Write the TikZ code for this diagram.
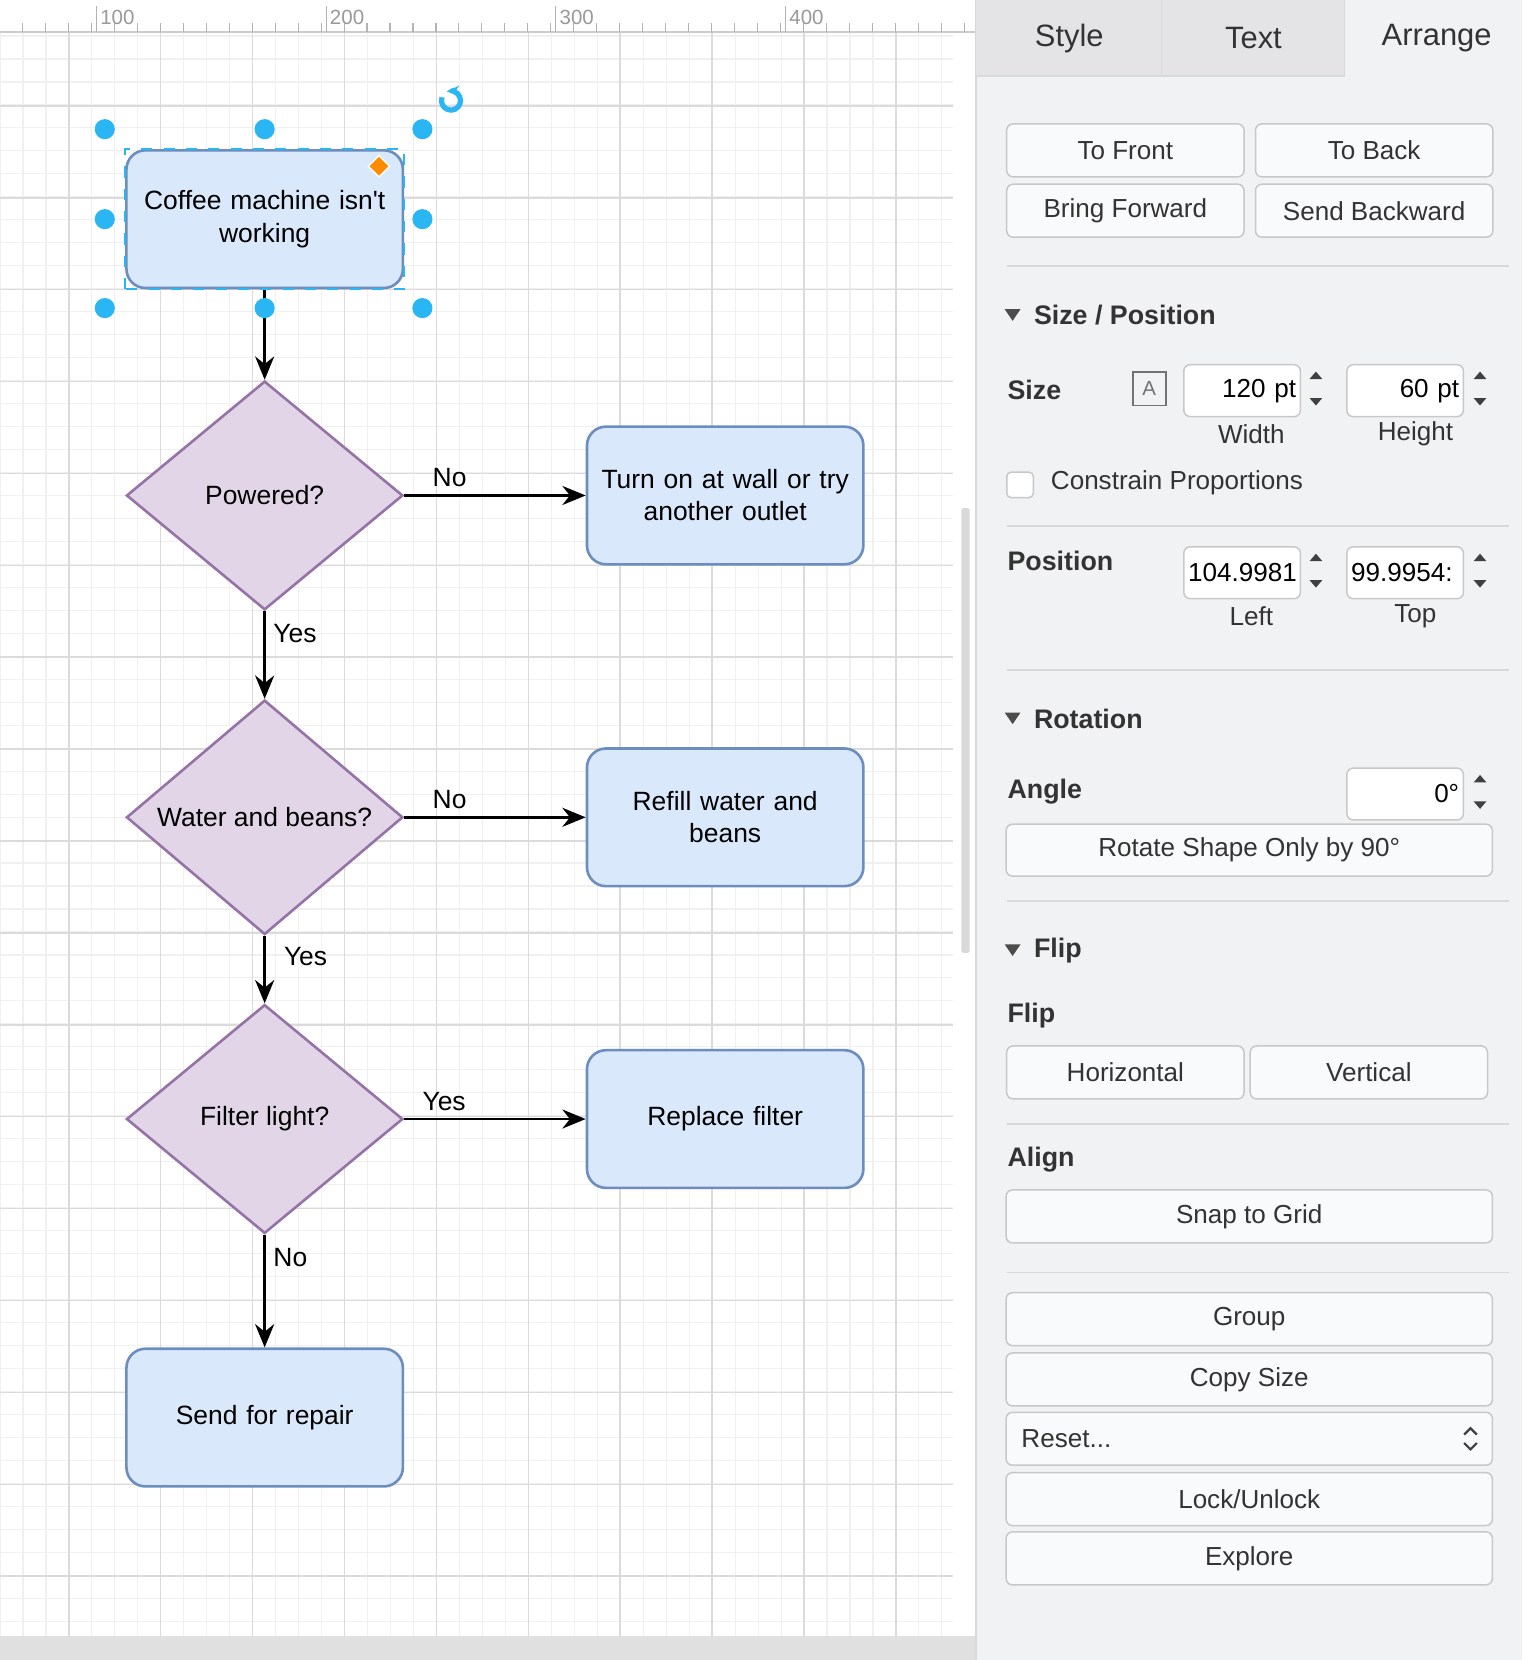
\documentclass[tikz,border=0pt]{standalone}
\usepackage{fontspec}
\setmainfont{Liberation Sans}
\usetikzlibrary{shapes.geometric,arrows.meta,positioning}
\definecolor{boxfill}{HTML}{DAE8FC}
\definecolor{boxline}{HTML}{6C8EBF}
\definecolor{decfill}{HTML}{E1D5E7}
\definecolor{decline}{HTML}{9673A6}
\definecolor{selblue}{HTML}{29B6F2}
\definecolor{panelbg}{HTML}{F1F2F4}
\definecolor{tabbg}{HTML}{E4E4E6}
\definecolor{btnline}{HTML}{C8C8C8}
\tikzset{
  box/.style={draw=boxline, fill=boxfill, rounded corners=0.18cm, line width=0.7pt, inner xsep=0.03cm,
    minimum width=2.61cm, minimum height=1.30cm, align=center, text width=2.55cm, font=\fontsize{7.1}{8.6}\selectfont},
  decision/.style={diamond, draw=decline, fill=decfill, line width=0.7pt, inner sep=0pt,
    minimum width=2.61cm, minimum height=2.16cm, font=\fontsize{7.1}{8.6}\selectfont},
  flow/.style={-{Stealth[length=0.22cm,width=0.18cm]}, line width=0.7pt},
  lbl/.style={font=\fontsize{7.1}{8.6}\selectfont, inner sep=2pt},
  handle/.style={circle, fill=selblue, minimum size=0.19cm, inner sep=0pt},
  btn/.style={draw=btnline, fill=white!60!panelbg, rounded corners=0.06cm, line width=0.4pt, font=\fontsize{7}{8}\selectfont\color{black!80}},
  field/.style={draw=btnline, fill=white, rounded corners=0.06cm, line width=0.4pt, minimum width=1.1cm, minimum height=0.49cm,
    inner xsep=0.04cm, text width=1.02cm, align=right, font=\fontsize{7}{8}\selectfont, anchor=east},
  head/.style={font=\bfseries\fontsize{7.2}{8}\selectfont\color{black!80}, anchor=west, inner sep=0pt},
  ptext/.style={font=\fontsize{7}{8}\selectfont\color{black!80}, inner sep=0pt},
  sep/.style={draw=black!15, line width=0.5pt},
}
\begin{document}
\begin{tikzpicture}[x=0.01cm, y=-0.01cm]
\useasboundingbox (0,0) rectangle (1438,1568);
\fill[white] (0,0) rectangle (1438,1568);
% canvas grid
\foreach \gx in {0,21.7,...,900} \draw[black!6, line width=0.3pt] (\gx,30) -- (\gx,1545);
\foreach \gy in {34,55.7,...,1545} \draw[black!6, line width=0.3pt] (0,\gy) -- (900,\gy);
\foreach \gx in {65,151.8,...,900} \draw[black!14, line width=0.4pt] (\gx,30) -- (\gx,1545);
\foreach \gy in {100,186.8,...,1545} \draw[black!14, line width=0.4pt] (0,\gy) -- (900,\gy);
% ruler
\fill[white] (0,0) rectangle (922,30);
\draw[black!20] (0,30) -- (922,30);
\foreach \rx in {-0.5,21.2,...,922} \draw[black!30, line width=0.3pt] (\rx,22) -- (\rx,30);
\foreach \rx/\rl in {108/100,325/200,542/300,759/400} {
  \draw[black!30, line width=0.3pt] (\rx-17,6) -- (\rx-17,30);
  \node[font=\fontsize{5.5}{6}\selectfont, text=black!40, anchor=west, inner sep=0pt] at (\rx-14,16) {\rl};
}
\fill[black!12] (0,1545) rectangle (922,1568);
\fill[black!15, rounded corners=0.02cm] (908,480) rectangle (916,900);

% flowchart
\node[box] (start) at (250,207) {Coffee machine isn\textquotesingle t\\working};
\node[decision] (powered) at (250,468) {Powered?};
\node[box] (outlet) at (685,468) {Turn on at wall or try\\another outlet};
\node[decision] (water) at (250,772) {Water and beans?};
\node[box] (refill) at (685,772) {Refill water and\\beans};
\node[decision] (filter) at (250,1057) {Filter light?};
\node[box] (replace) at (685,1057) {Replace filter};
\node[box] (repair) at (250,1339) {Send for repair};

\draw[flow] (start) -- (powered);
\draw[flow] (powered) -- node[lbl, above, pos=0.25] {No} (outlet);
\draw[flow] (powered) -- node[lbl, right, pos=0.25] {Yes} (water);
\draw[flow] (water) -- node[lbl, above, pos=0.25] {No} (refill);
\draw[flow] (water) -- node[lbl, right, pos=0.3, xshift=0.1cm] {Yes} (filter);
\draw[flow] (filter) -- node[lbl, above, pos=0.22] {Yes} (replace);
\draw[flow] (filter) -- node[lbl, right, pos=0.2] {No} (repair);

% selection
\draw[selblue, dashed, line width=0.5pt] (start.south west) rectangle (start.north east);
\foreach \hx/\hy in {99/122,250/122,399/122,99/207,399/207,99/291,250/291,399/291}
  \node[handle] at (\hx,\hy) {};
\fill[orange!90!yellow, draw=white, line width=0.4pt] (358,147) -- (368,157) -- (358,167) -- (348,157) -- cycle;
\draw[selblue, line width=1.4pt, -{Stealth[length=0.1cm]}] (426,95) ++(200:9) arc (200:-100:9);

% panel
\fill[panelbg] (922,0) rectangle (1438,1568);
\draw[black!15] (922,0) -- (922,1568);
\fill[tabbg] (922,0) rectangle (1270,72);
\draw[black!15] (1097,0) -- (1097,72) (1270,0) -- (1270,72) (922,72) -- (1270,72);
\node[font=\fontsize{8.3}{9}\selectfont\color{black!80}] (tstyle) at (1010,36) {Style};
\node[font=\fontsize{8.3}{9}\selectfont\color{black!80}] (ttext) at (1184,36) {Text};
\node[font=\fontsize{8.3}{9}\selectfont\color{black!80}] (tarr) at (1357,36) {Arrange};

\node[btn, minimum width=2.24cm, minimum height=0.5cm] (front) at (1063,142) {To Front};
\node[btn, minimum width=2.24cm, minimum height=0.5cm] (back) at (1298,142) {To Back};
\node[btn, minimum width=2.24cm, minimum height=0.5cm] (fwd) at (1063,199) {Bring Forward};
\node[btn, minimum width=2.24cm, minimum height=0.5cm] (bwd) at (1298,199) {Send Backward};
\draw[sep] (951,251) -- (1425,251);

\fill[black!70] (949,292) -- (964,292) -- (956.5,303) -- cycle;
\node[head] (hsize) at (976,298) {Size / Position};
\node[head] (lsize) at (951,368) {Size};
\draw[black!55, line width=0.5pt] (1070,351) rectangle (1101,383);
\node[font=\fontsize{5.5}{6}\selectfont\color{black!55}, inner sep=0pt] at (1085.5,367) {A};
\node[field] (fw) at (1229,369) {120 pt};
\node[field] (fh) at (1383,369) {60 pt};
\foreach \sx in {1243,1398} {
  \fill[black!75] (\sx-6,358) -- (\sx+6,358) -- (\sx,351) -- cycle;
  \fill[black!75] (\sx-6,376) -- (\sx+6,376) -- (\sx,383) -- cycle;
}
\node[ptext] at (1182,410) {Width};
\node[ptext] at (1337,410) {Height};
\draw[btnline, fill=white, rounded corners=0.04cm] (951,446) rectangle (976,470);
\node[ptext, anchor=west] at (992,456) {Constrain Proportions};
\draw[sep] (951,497) -- (1425,497);

\node[head] (lpos) at (951,530) {Position};
\node[field, align=left] (fl) at (1229,541) {104.9981};
\node[field, align=left] (ft) at (1383,541) {99.9954:};
\foreach \sx in {1243,1398} {
  \fill[black!75] (\sx-6,530) -- (\sx+6,530) -- (\sx,523) -- cycle;
  \fill[black!75] (\sx-6,548) -- (\sx+6,548) -- (\sx,555) -- cycle;
}
\node[ptext] at (1182,582) {Left};
\node[ptext] at (1337,582) {Top};
\draw[sep] (951,633) -- (1425,633);

\fill[black!70] (949,673) -- (964,673) -- (956.5,684) -- cycle;
\node[head] (hrot) at (976,679) {Rotation};
\node[head] (lang) at (951,748) {Angle};
\node[field] (fa) at (1383,750) {0°};
\fill[black!75] (1392,739) -- (1404,739) -- (1398,732) -- cycle;
\fill[black!75] (1392,757) -- (1404,757) -- (1398,764) -- cycle;
\node[btn, minimum width=4.59cm, minimum height=0.49cm] (rot) at (1180,803) {Rotate Shape Only by 90°};
\draw[sep] (951,851) -- (1425,851);

\fill[black!70] (949,892) -- (964,892) -- (956.5,903) -- cycle;
\node[head] (hflip) at (976,898) {Flip};
\node[head] (lflip) at (951,959) {Flip};
\node[btn, minimum width=2.24cm, minimum height=0.5cm] (hor) at (1063,1013) {Horizontal};
\node[btn, minimum width=2.24cm, minimum height=0.5cm] (ver) at (1293,1013) {Vertical};
\draw[sep] (951,1062) -- (1425,1062);

\node[head] (lalign) at (951,1095) {Align};
\node[btn, minimum width=4.59cm, minimum height=0.5cm] (snap) at (1180,1149) {Snap to Grid};
\draw[sep] (951,1202) -- (1425,1202);

\node[btn, minimum width=4.59cm, minimum height=0.5cm] (group) at (1180,1246) {Group};
\node[btn, minimum width=4.59cm, minimum height=0.5cm] (copy) at (1180,1303) {Copy Size};
\node[btn, minimum width=4.59cm, minimum height=0.5cm, text width=4.3cm, align=left] (reset) at (1180,1359) {Reset...};
\draw[black!75, line width=0.6pt] (1383,1355) -- (1389,1349) -- (1395,1355) (1383,1363) -- (1389,1369) -- (1395,1363);
\node[btn, minimum width=4.59cm, minimum height=0.5cm] (lock) at (1180,1416) {Lock/Unlock};
\node[btn, minimum width=4.59cm, minimum height=0.5cm] (explore) at (1180,1472) {Explore};
\end{tikzpicture}
\end{document}
